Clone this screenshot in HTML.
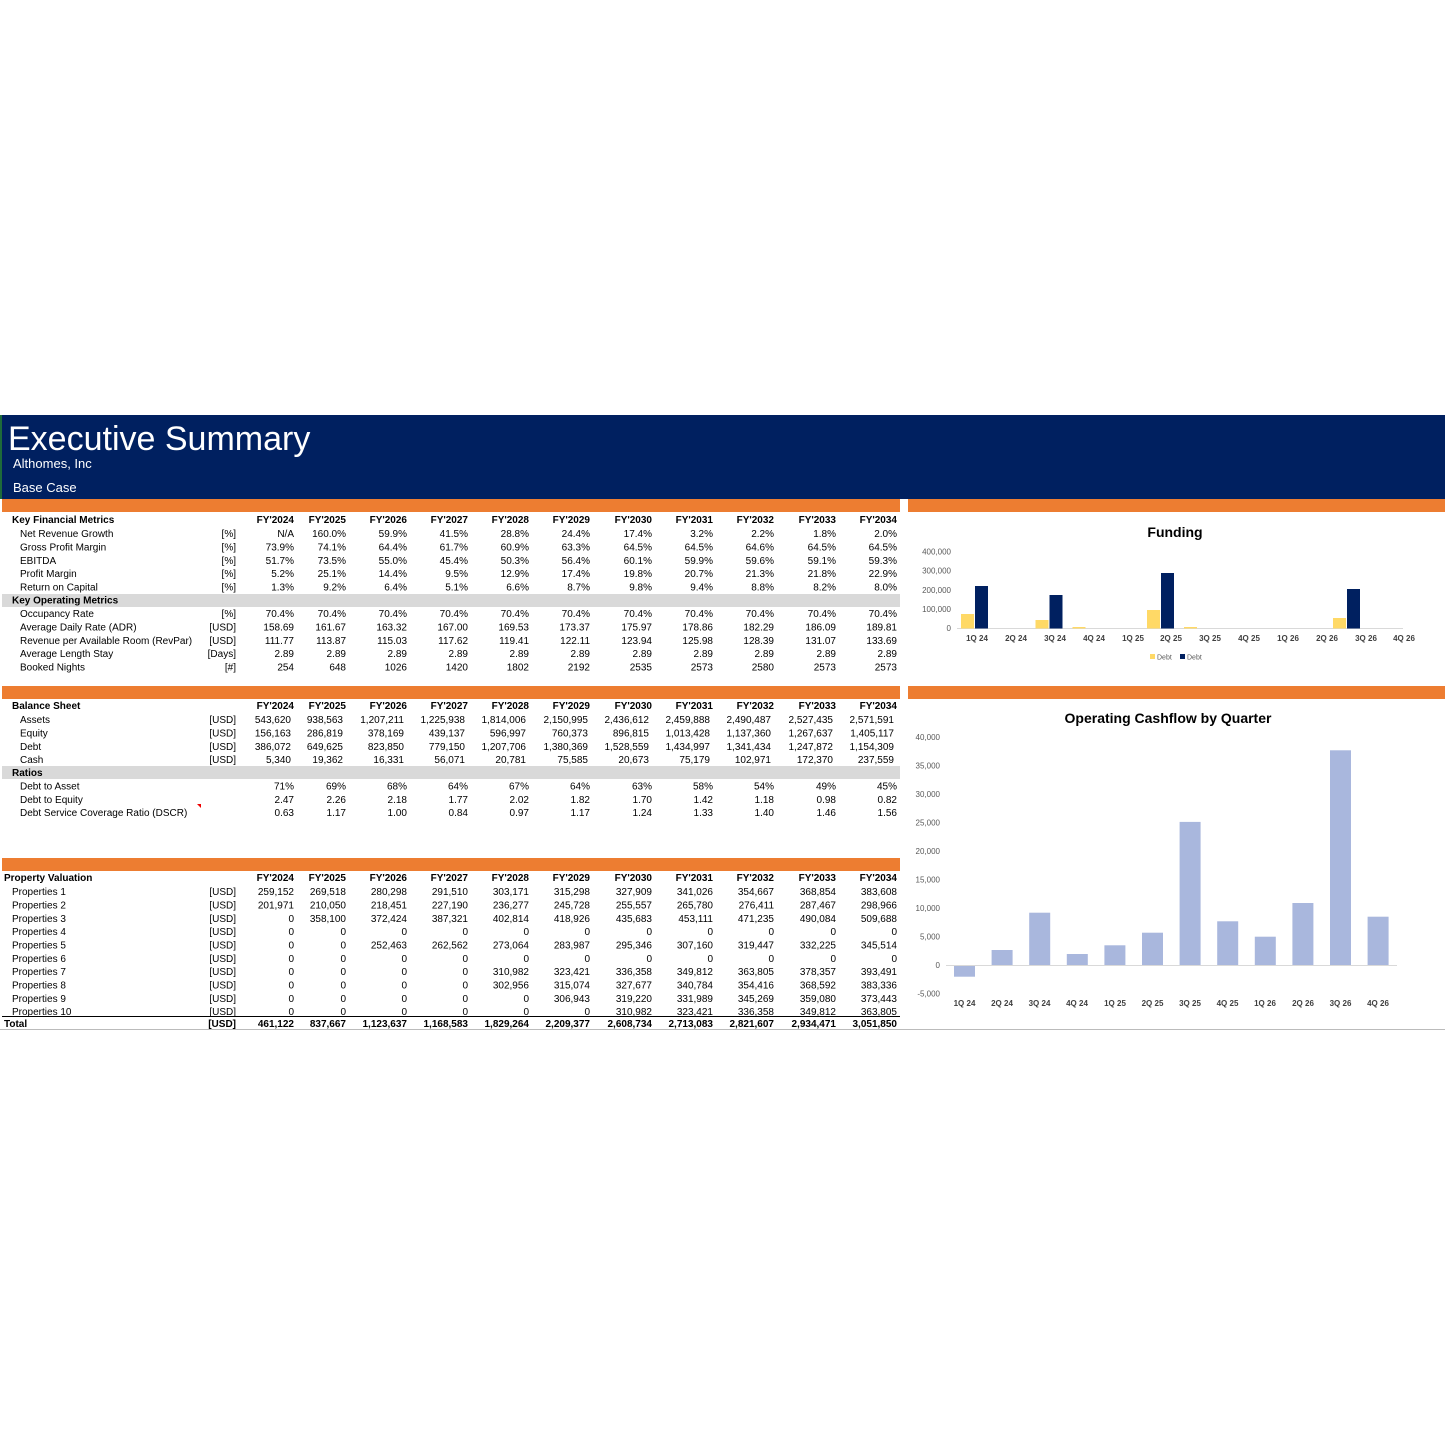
<!DOCTYPE html>
<html><head><meta charset="utf-8"><style>
html,body{margin:0;padding:0;background:#fff}
svg{display:block}
text{font-family:"Liberation Sans",Arial,sans-serif;font-size:10px;fill:#000}
.b{font-weight:bold}
.e tspan{text-anchor:end}
.ax{font-size:8px;fill:#595959}
.cx{font-size:8px;font-weight:bold;fill:#404040;text-anchor:middle}
</style></head><body>
<svg width="1445" height="1445" viewBox="0 0 1445 1445" xmlns="http://www.w3.org/2000/svg">
<rect x="0" y="0" width="1445" height="1445" fill="#fff"/>
<!-- banner -->
<rect x="2" y="415" width="1443" height="84" fill="#002060"/>
<rect x="0" y="415" width="2" height="84" fill="#1e6b3a"/>
<text x="8" y="450" style="font-size:34px;fill:#fff">Executive Summary</text>
<text x="13" y="468" style="font-size:13px;fill:#fff">Althomes, Inc</text>
<text x="13" y="492" style="font-size:13px;fill:#fff">Base Case</text>
<!-- orange bars -->
<rect x="2" y="499" width="898" height="13" fill="#ED7D31"/>
<rect x="908" y="499" width="537" height="13" fill="#ED7D31"/>
<rect x="2" y="686" width="898" height="13" fill="#ED7D31"/>
<rect x="908" y="686" width="537" height="13" fill="#ED7D31"/>
<rect x="2" y="858" width="898" height="13" fill="#ED7D31"/>
<!-- gray bands -->
<rect x="2" y="594" width="898" height="13" fill="#D9D9D9"/>
<rect x="2" y="766" width="898" height="13" fill="#D9D9D9"/>
<!-- total lines -->
<line x1="2" y1="1016.5" x2="900" y2="1016.5" stroke="#000" stroke-width="1"/>
<line x1="0" y1="1029.5" x2="1445" y2="1029.5" stroke="#bbb" stroke-width="1"/>
<polygon points="197,804 201,804 201,808" fill="#e00"/>

<!-- Table 1 -->
<text class="b" x="12" y="523">Key Financial Metrics</text>
<text class="b e" y="523"><tspan x="294">FY'2024</tspan><tspan x="346">FY'2025</tspan><tspan x="407">FY'2026</tspan><tspan x="468">FY'2027</tspan><tspan x="529">FY'2028</tspan><tspan x="590">FY'2029</tspan><tspan x="652">FY'2030</tspan><tspan x="713">FY'2031</tspan><tspan x="774">FY'2032</tspan><tspan x="836">FY'2033</tspan><tspan x="897">FY'2034</tspan></text>
<text x="20" y="537">Net Revenue Growth</text>
<text class="e" y="537"><tspan x="236">[%]</tspan><tspan x="294">N/A</tspan><tspan x="346">160.0%</tspan><tspan x="407">59.9%</tspan><tspan x="468">41.5%</tspan><tspan x="529">28.8%</tspan><tspan x="590">24.4%</tspan><tspan x="652">17.4%</tspan><tspan x="713">3.2%</tspan><tspan x="774">2.2%</tspan><tspan x="836">1.8%</tspan><tspan x="897">2.0%</tspan></text>
<text x="20" y="550.5">Gross Profit Margin</text>
<text class="e" y="550.5"><tspan x="236">[%]</tspan><tspan x="294">73.9%</tspan><tspan x="346">74.1%</tspan><tspan x="407">64.4%</tspan><tspan x="468">61.7%</tspan><tspan x="529">60.9%</tspan><tspan x="590">63.3%</tspan><tspan x="652">64.5%</tspan><tspan x="713">64.5%</tspan><tspan x="774">64.6%</tspan><tspan x="836">64.5%</tspan><tspan x="897">64.5%</tspan></text>
<text x="20" y="564">EBITDA</text>
<text class="e" y="564"><tspan x="236">[%]</tspan><tspan x="294">51.7%</tspan><tspan x="346">73.5%</tspan><tspan x="407">55.0%</tspan><tspan x="468">45.4%</tspan><tspan x="529">50.3%</tspan><tspan x="590">56.4%</tspan><tspan x="652">60.1%</tspan><tspan x="713">59.9%</tspan><tspan x="774">59.6%</tspan><tspan x="836">59.1%</tspan><tspan x="897">59.3%</tspan></text>
<text x="20" y="577">Profit Margin</text>
<text class="e" y="577"><tspan x="236">[%]</tspan><tspan x="294">5.2%</tspan><tspan x="346">25.1%</tspan><tspan x="407">14.4%</tspan><tspan x="468">9.5%</tspan><tspan x="529">12.9%</tspan><tspan x="590">17.4%</tspan><tspan x="652">19.8%</tspan><tspan x="713">20.7%</tspan><tspan x="774">21.3%</tspan><tspan x="836">21.8%</tspan><tspan x="897">22.9%</tspan></text>
<text x="20" y="590.5">Return on Capital</text>
<text class="e" y="590.5"><tspan x="236">[%]</tspan><tspan x="294">1.3%</tspan><tspan x="346">9.2%</tspan><tspan x="407">6.4%</tspan><tspan x="468">5.1%</tspan><tspan x="529">6.6%</tspan><tspan x="590">8.7%</tspan><tspan x="652">9.8%</tspan><tspan x="713">9.4%</tspan><tspan x="774">8.8%</tspan><tspan x="836">8.2%</tspan><tspan x="897">8.0%</tspan></text>
<text class="b" x="12" y="603.5">Key Operating Metrics</text>
<text x="20" y="617">Occupancy Rate</text>
<text class="e" y="617"><tspan x="236">[%]</tspan><tspan x="294">70.4%</tspan><tspan x="346">70.4%</tspan><tspan x="407">70.4%</tspan><tspan x="468">70.4%</tspan><tspan x="529">70.4%</tspan><tspan x="590">70.4%</tspan><tspan x="652">70.4%</tspan><tspan x="713">70.4%</tspan><tspan x="774">70.4%</tspan><tspan x="836">70.4%</tspan><tspan x="897">70.4%</tspan></text>
<text x="20" y="630.5">Average Daily Rate (ADR)</text>
<text class="e" y="630.5"><tspan x="236">[USD]</tspan><tspan x="294">158.69</tspan><tspan x="346">161.67</tspan><tspan x="407">163.32</tspan><tspan x="468">167.00</tspan><tspan x="529">169.53</tspan><tspan x="590">173.37</tspan><tspan x="652">175.97</tspan><tspan x="713">178.86</tspan><tspan x="774">182.29</tspan><tspan x="836">186.09</tspan><tspan x="897">189.81</tspan></text>
<text x="20" y="644">Revenue per Available Room (RevPar)</text>
<text class="e" y="644"><tspan x="236">[USD]</tspan><tspan x="294">111.77</tspan><tspan x="346">113.87</tspan><tspan x="407">115.03</tspan><tspan x="468">117.62</tspan><tspan x="529">119.41</tspan><tspan x="590">122.11</tspan><tspan x="652">123.94</tspan><tspan x="713">125.98</tspan><tspan x="774">128.39</tspan><tspan x="836">131.07</tspan><tspan x="897">133.69</tspan></text>
<text x="20" y="657">Average Length Stay</text>
<text class="e" y="657"><tspan x="236">[Days]</tspan><tspan x="294">2.89</tspan><tspan x="346">2.89</tspan><tspan x="407">2.89</tspan><tspan x="468">2.89</tspan><tspan x="529">2.89</tspan><tspan x="590">2.89</tspan><tspan x="652">2.89</tspan><tspan x="713">2.89</tspan><tspan x="774">2.89</tspan><tspan x="836">2.89</tspan><tspan x="897">2.89</tspan></text>
<text x="20" y="670.5">Booked Nights</text>
<text class="e" y="670.5"><tspan x="236">[#]</tspan><tspan x="294">254</tspan><tspan x="346">648</tspan><tspan x="407">1026</tspan><tspan x="468">1420</tspan><tspan x="529">1802</tspan><tspan x="590">2192</tspan><tspan x="652">2535</tspan><tspan x="713">2573</tspan><tspan x="774">2580</tspan><tspan x="836">2573</tspan><tspan x="897">2573</tspan></text>

<!-- Table 2 -->
<text class="b" x="12" y="709">Balance Sheet</text>
<text class="b e" y="709"><tspan x="294">FY'2024</tspan><tspan x="346">FY'2025</tspan><tspan x="407">FY'2026</tspan><tspan x="468">FY'2027</tspan><tspan x="529">FY'2028</tspan><tspan x="590">FY'2029</tspan><tspan x="652">FY'2030</tspan><tspan x="713">FY'2031</tspan><tspan x="774">FY'2032</tspan><tspan x="836">FY'2033</tspan><tspan x="897">FY'2034</tspan></text>
<text x="20" y="723">Assets</text>
<text class="e" y="723"><tspan x="236">[USD]</tspan><tspan x="291">543,620</tspan><tspan x="343">938,563</tspan><tspan x="404">1,207,211</tspan><tspan x="465">1,225,938</tspan><tspan x="526">1,814,006</tspan><tspan x="588">2,150,995</tspan><tspan x="649">2,436,612</tspan><tspan x="710">2,459,888</tspan><tspan x="771">2,490,487</tspan><tspan x="833">2,527,435</tspan><tspan x="894">2,571,591</tspan></text>
<text x="20" y="736.5">Equity</text>
<text class="e" y="736.5"><tspan x="236">[USD]</tspan><tspan x="291">156,163</tspan><tspan x="343">286,819</tspan><tspan x="404">378,169</tspan><tspan x="465">439,137</tspan><tspan x="526">596,997</tspan><tspan x="588">760,373</tspan><tspan x="649">896,815</tspan><tspan x="710">1,013,428</tspan><tspan x="771">1,137,360</tspan><tspan x="833">1,267,637</tspan><tspan x="894">1,405,117</tspan></text>
<text x="20" y="750">Debt</text>
<text class="e" y="750"><tspan x="236">[USD]</tspan><tspan x="291">386,072</tspan><tspan x="343">649,625</tspan><tspan x="404">823,850</tspan><tspan x="465">779,150</tspan><tspan x="526">1,207,706</tspan><tspan x="588">1,380,369</tspan><tspan x="649">1,528,559</tspan><tspan x="710">1,434,997</tspan><tspan x="771">1,341,434</tspan><tspan x="833">1,247,872</tspan><tspan x="894">1,154,309</tspan></text>
<text x="20" y="763">Cash</text>
<text class="e" y="763"><tspan x="236">[USD]</tspan><tspan x="291">5,340</tspan><tspan x="343">19,362</tspan><tspan x="404">16,331</tspan><tspan x="465">56,071</tspan><tspan x="526">20,781</tspan><tspan x="588">75,585</tspan><tspan x="649">20,673</tspan><tspan x="710">75,179</tspan><tspan x="771">102,971</tspan><tspan x="833">172,370</tspan><tspan x="894">237,559</tspan></text>
<text class="b" x="12" y="776">Ratios</text>
<text x="20" y="789.5">Debt to Asset</text>
<text class="e" y="789.5"><tspan x="294">71%</tspan><tspan x="346">69%</tspan><tspan x="407">68%</tspan><tspan x="468">64%</tspan><tspan x="529">67%</tspan><tspan x="590">64%</tspan><tspan x="652">63%</tspan><tspan x="713">58%</tspan><tspan x="774">54%</tspan><tspan x="836">49%</tspan><tspan x="897">45%</tspan></text>
<text x="20" y="803">Debt to Equity</text>
<text class="e" y="803"><tspan x="294">2.47</tspan><tspan x="346">2.26</tspan><tspan x="407">2.18</tspan><tspan x="468">1.77</tspan><tspan x="529">2.02</tspan><tspan x="590">1.82</tspan><tspan x="652">1.70</tspan><tspan x="713">1.42</tspan><tspan x="774">1.18</tspan><tspan x="836">0.98</tspan><tspan x="897">0.82</tspan></text>
<text x="20" y="816">Debt Service Coverage Ratio (DSCR)</text>
<text class="e" y="816"><tspan x="294">0.63</tspan><tspan x="346">1.17</tspan><tspan x="407">1.00</tspan><tspan x="468">0.84</tspan><tspan x="529">0.97</tspan><tspan x="590">1.17</tspan><tspan x="652">1.24</tspan><tspan x="713">1.33</tspan><tspan x="774">1.40</tspan><tspan x="836">1.46</tspan><tspan x="897">1.56</tspan></text>

<!-- Table 3 -->
<text class="b" x="4" y="881">Property Valuation</text>
<text class="b e" y="881"><tspan x="294">FY'2024</tspan><tspan x="346">FY'2025</tspan><tspan x="407">FY'2026</tspan><tspan x="468">FY'2027</tspan><tspan x="529">FY'2028</tspan><tspan x="590">FY'2029</tspan><tspan x="652">FY'2030</tspan><tspan x="713">FY'2031</tspan><tspan x="774">FY'2032</tspan><tspan x="836">FY'2033</tspan><tspan x="897">FY'2034</tspan></text>
<text x="12" y="895">Properties 1</text>
<text class="e" y="895"><tspan x="236">[USD]</tspan><tspan x="294">259,152</tspan><tspan x="346">269,518</tspan><tspan x="407">280,298</tspan><tspan x="468">291,510</tspan><tspan x="529">303,171</tspan><tspan x="590">315,298</tspan><tspan x="652">327,909</tspan><tspan x="713">341,026</tspan><tspan x="774">354,667</tspan><tspan x="836">368,854</tspan><tspan x="897">383,608</tspan></text>
<text x="12" y="908.5">Properties 2</text>
<text class="e" y="908.5"><tspan x="236">[USD]</tspan><tspan x="294">201,971</tspan><tspan x="346">210,050</tspan><tspan x="407">218,451</tspan><tspan x="468">227,190</tspan><tspan x="529">236,277</tspan><tspan x="590">245,728</tspan><tspan x="652">255,557</tspan><tspan x="713">265,780</tspan><tspan x="774">276,411</tspan><tspan x="836">287,467</tspan><tspan x="897">298,966</tspan></text>
<text x="12" y="922">Properties 3</text>
<text class="e" y="922"><tspan x="236">[USD]</tspan><tspan x="294">0</tspan><tspan x="346">358,100</tspan><tspan x="407">372,424</tspan><tspan x="468">387,321</tspan><tspan x="529">402,814</tspan><tspan x="590">418,926</tspan><tspan x="652">435,683</tspan><tspan x="713">453,111</tspan><tspan x="774">471,235</tspan><tspan x="836">490,084</tspan><tspan x="897">509,688</tspan></text>
<text x="12" y="935">Properties 4</text>
<text class="e" y="935"><tspan x="236">[USD]</tspan><tspan x="294">0</tspan><tspan x="346">0</tspan><tspan x="407">0</tspan><tspan x="468">0</tspan><tspan x="529">0</tspan><tspan x="590">0</tspan><tspan x="652">0</tspan><tspan x="713">0</tspan><tspan x="774">0</tspan><tspan x="836">0</tspan><tspan x="897">0</tspan></text>
<text x="12" y="948.5">Properties 5</text>
<text class="e" y="948.5"><tspan x="236">[USD]</tspan><tspan x="294">0</tspan><tspan x="346">0</tspan><tspan x="407">252,463</tspan><tspan x="468">262,562</tspan><tspan x="529">273,064</tspan><tspan x="590">283,987</tspan><tspan x="652">295,346</tspan><tspan x="713">307,160</tspan><tspan x="774">319,447</tspan><tspan x="836">332,225</tspan><tspan x="897">345,514</tspan></text>
<text x="12" y="962">Properties 6</text>
<text class="e" y="962"><tspan x="236">[USD]</tspan><tspan x="294">0</tspan><tspan x="346">0</tspan><tspan x="407">0</tspan><tspan x="468">0</tspan><tspan x="529">0</tspan><tspan x="590">0</tspan><tspan x="652">0</tspan><tspan x="713">0</tspan><tspan x="774">0</tspan><tspan x="836">0</tspan><tspan x="897">0</tspan></text>
<text x="12" y="975">Properties 7</text>
<text class="e" y="975"><tspan x="236">[USD]</tspan><tspan x="294">0</tspan><tspan x="346">0</tspan><tspan x="407">0</tspan><tspan x="468">0</tspan><tspan x="529">310,982</tspan><tspan x="590">323,421</tspan><tspan x="652">336,358</tspan><tspan x="713">349,812</tspan><tspan x="774">363,805</tspan><tspan x="836">378,357</tspan><tspan x="897">393,491</tspan></text>
<text x="12" y="988.5">Properties 8</text>
<text class="e" y="988.5"><tspan x="236">[USD]</tspan><tspan x="294">0</tspan><tspan x="346">0</tspan><tspan x="407">0</tspan><tspan x="468">0</tspan><tspan x="529">302,956</tspan><tspan x="590">315,074</tspan><tspan x="652">327,677</tspan><tspan x="713">340,784</tspan><tspan x="774">354,416</tspan><tspan x="836">368,592</tspan><tspan x="897">383,336</tspan></text>
<text x="12" y="1002">Properties 9</text>
<text class="e" y="1002"><tspan x="236">[USD]</tspan><tspan x="294">0</tspan><tspan x="346">0</tspan><tspan x="407">0</tspan><tspan x="468">0</tspan><tspan x="529">0</tspan><tspan x="590">306,943</tspan><tspan x="652">319,220</tspan><tspan x="713">331,989</tspan><tspan x="774">345,269</tspan><tspan x="836">359,080</tspan><tspan x="897">373,443</tspan></text>
<text x="12" y="1015">Properties 10</text>
<text class="e" y="1015"><tspan x="236">[USD]</tspan><tspan x="294">0</tspan><tspan x="346">0</tspan><tspan x="407">0</tspan><tspan x="468">0</tspan><tspan x="529">0</tspan><tspan x="590">0</tspan><tspan x="652">310,982</tspan><tspan x="713">323,421</tspan><tspan x="774">336,358</tspan><tspan x="836">349,812</tspan><tspan x="897">363,805</tspan></text>
<text class="b" x="4" y="1027">Total</text>
<text class="b e" y="1027"><tspan x="236">[USD]</tspan><tspan x="294">461,122</tspan><tspan x="346">837,667</tspan><tspan x="407">1,123,637</tspan><tspan x="468">1,168,583</tspan><tspan x="529">1,829,264</tspan><tspan x="590">2,209,377</tspan><tspan x="652">2,608,734</tspan><tspan x="713">2,713,083</tspan><tspan x="774">2,821,607</tspan><tspan x="836">2,934,471</tspan><tspan x="897">3,051,850</tspan></text>

<!-- Funding chart -->
<text x="1175" y="537" class="b" style="font-size:14px;text-anchor:middle">Funding</text>
<g class="ax" style="text-anchor:end">
<text x="951" y="554.5" class="ax" text-anchor="end">400,000</text>
<text x="951" y="573.7" class="ax" text-anchor="end">300,000</text>
<text x="951" y="592.8" class="ax" text-anchor="end">200,000</text>
<text x="951" y="612" class="ax" text-anchor="end">100,000</text>
<text x="951" y="631" class="ax" text-anchor="end">0</text>
</g>
<line x1="957" y1="628.5" x2="1403" y2="628.5" stroke="#d9d9d9"/>
<g fill="#FFD966">
<rect x="961" y="614" width="13" height="14.5"/>
<rect x="1035.5" y="620" width="13" height="8.5"/>
<rect x="1072.5" y="627" width="13" height="1.5"/>
<rect x="1147" y="610" width="13" height="18.5"/>
<rect x="1184" y="627" width="13" height="1.5"/>
<rect x="1333" y="618" width="13" height="10.5"/>
</g>
<g fill="#002060">
<rect x="975" y="586" width="13" height="42.5"/>
<rect x="1049.5" y="595" width="13" height="33.5"/>
<rect x="1161" y="573" width="13" height="55.5"/>
<rect x="1347" y="589" width="13" height="39.5"/>
</g>
<text class="cx" y="641"><tspan x="977">1Q 24</tspan><tspan x="1016">2Q 24</tspan><tspan x="1055">3Q 24</tspan><tspan x="1094">4Q 24</tspan><tspan x="1133">1Q 25</tspan><tspan x="1171">2Q 25</tspan><tspan x="1210">3Q 25</tspan><tspan x="1249">4Q 25</tspan><tspan x="1288">1Q 26</tspan><tspan x="1327">2Q 26</tspan><tspan x="1366">3Q 26</tspan><tspan x="1404">4Q 26</tspan></text>
<rect x="1150" y="654" width="5" height="5" fill="#FFD966"/>
<text x="1157" y="659.5" style="font-size:7px;fill:#595959">Debt</text>
<rect x="1180" y="654" width="5" height="5" fill="#002060"/>
<text x="1187" y="659.5" style="font-size:7px;fill:#595959">Debt</text>

<!-- Cashflow chart -->
<text x="1168" y="723" class="b" style="font-size:14px;text-anchor:middle">Operating Cashflow by Quarter</text>
<text class="ax" text-anchor="end" x="940" y="740">40,000</text>
<text class="ax" text-anchor="end" x="940" y="768.5">35,000</text>
<text class="ax" text-anchor="end" x="940" y="797">30,000</text>
<text class="ax" text-anchor="end" x="940" y="825.5">25,000</text>
<text class="ax" text-anchor="end" x="940" y="854">20,000</text>
<text class="ax" text-anchor="end" x="940" y="882.5">15,000</text>
<text class="ax" text-anchor="end" x="940" y="911">10,000</text>
<text class="ax" text-anchor="end" x="940" y="939.5">5,000</text>
<text class="ax" text-anchor="end" x="940" y="968">0</text>
<text class="ax" text-anchor="end" x="940" y="996.5">-5,000</text>
<g fill="#A9B7DD">
<rect x="954" y="965.3" width="21" height="11.4"/>
<rect x="991.6" y="950" width="21" height="15.3"/>
<rect x="1029.2" y="912.7" width="21" height="52.6"/>
<rect x="1066.8" y="954" width="21" height="11.3"/>
<rect x="1104.4" y="945.3" width="21" height="20"/>
<rect x="1142" y="932.7" width="21" height="32.6"/>
<rect x="1179.6" y="821.9" width="21" height="143.4"/>
<rect x="1217.2" y="921.3" width="21" height="44"/>
<rect x="1254.8" y="936.7" width="21" height="28.6"/>
<rect x="1292.4" y="903" width="21" height="62.3"/>
<rect x="1330" y="750.3" width="21" height="215"/>
<rect x="1367.6" y="916.7" width="21" height="48.6"/>
</g>
<line x1="946" y1="965.5" x2="1397" y2="965.5" stroke="#d9d9d9"/>
<text class="cx" y="1006"><tspan x="964.5">1Q 24</tspan><tspan x="1002">2Q 24</tspan><tspan x="1039.5">3Q 24</tspan><tspan x="1077">4Q 24</tspan><tspan x="1115">1Q 25</tspan><tspan x="1152.5">2Q 25</tspan><tspan x="1190">3Q 25</tspan><tspan x="1227.5">4Q 25</tspan><tspan x="1265">1Q 26</tspan><tspan x="1303">2Q 26</tspan><tspan x="1340.5">3Q 26</tspan><tspan x="1378">4Q 26</tspan></text>
</svg>
</body></html>
